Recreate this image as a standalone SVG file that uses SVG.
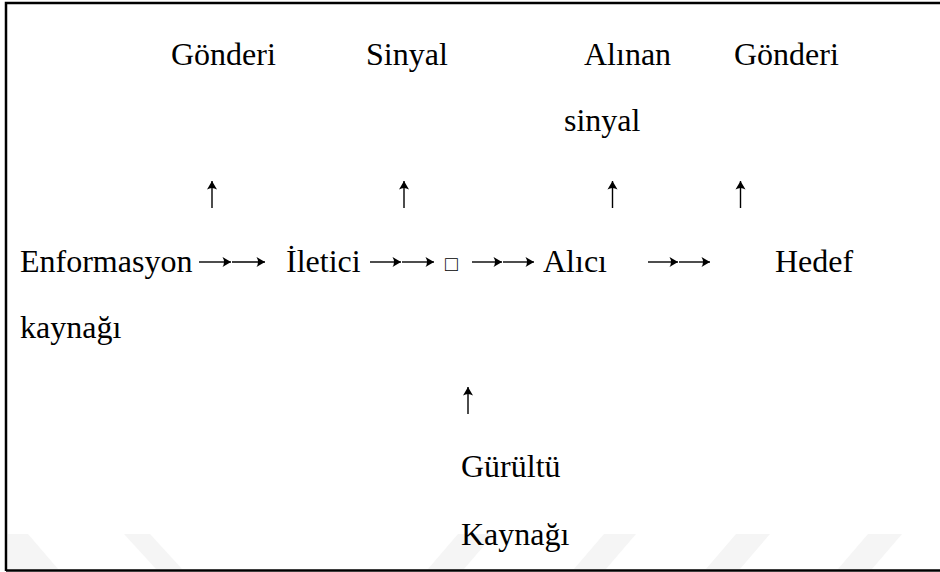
<svg xmlns="http://www.w3.org/2000/svg" width="940" height="572" viewBox="0 0 940 572">
  <style>
    text { font-family: "Liberation Serif", "Times New Roman", serif; font-size: 32px; fill: #000; }
    .frame { fill: none; stroke: #000; stroke-width: 2.5; }
    .mark { fill: #f5f5f5; }
    .link { fill: none; stroke: #000; stroke-width: 1.4; marker-end: url(#head); }
  </style>
  <defs>
    <marker id="head" viewBox="-9 -6 10 12" refX="0" refY="0" markerUnits="userSpaceOnUse" markerWidth="10" markerHeight="12" orient="auto">
      <path d="M0,0 L-8.5,-5 Q-5.5,0 -8.5,5 Z" fill="#000"/>
    </marker>
  </defs>

  <rect x="0" y="0" width="940" height="572" fill="#fff"/>

  <!-- faint background stripes along the lower edge -->
  <g id="stripes">
    <polygon class="mark" points="8,534 28,534 58,569 8,569"/>
    <polygon class="mark" points="124,534 150,534 182,569 156,569"/>
    <polygon class="mark" points="458,534 494,534 464,569 428,569"/>
    <polygon class="mark" points="604,534 636,534 606,569 574,569"/>
    <polygon class="mark" points="736,534 770,534 740,569 706,569"/>
    <polygon class="mark" points="868,534 902,534 872,569 838,569"/>
  </g>

  <!-- frame: left, top and bottom rules -->
  <path class="frame" d="M6,571 V3 H940 M6,570.5 H940"/>

  <!-- upper labels -->
  <g id="gonderi-1"><text x="171" y="65">Gönderi</text></g>
  <g id="sinyal"><text x="366" y="65">Sinyal</text></g>
  <g id="alinan-sinyal"><text x="584" y="65">Alınan</text><text x="564" y="131">sinyal</text></g>
  <g id="gonderi-2"><text x="734" y="65">Gönderi</text></g>

  <!-- main chain -->
  <g id="kaynak"><text x="20" y="272">Enformasyon</text><text x="20" y="338">kaynağı</text></g>
  <g id="iletici"><text x="286" y="272">İletici</text></g>
  <g id="kanal"><text x="445" y="271" style="font-size:21px">□</text></g>
  <g id="alici"><text x="543" y="272">Alıcı</text></g>
  <g id="hedef"><text x="775" y="272">Hedef</text></g>

  <!-- noise source -->
  <g id="gurultu"><text x="461" y="477">Gürültü</text><text x="461" y="545">Kaynağı</text></g>

  <!-- connectors -->
  <g id="connectors">
    <!-- upward pointers to the labels -->
    <path class="link" d="M212,208 V181"/>
    <path class="link" d="M404,208 V181"/>
    <path class="link" d="M612.5,208 V181"/>
    <path class="link" d="M740.5,208 V181"/>
    <!-- noise into the channel -->
    <path class="link" d="M468,414 V387"/>
    <!-- double arrows along the chain -->
    <path class="link" d="M199,262 H231"/>
    <path class="link" d="M232,262 H265"/>
    <path class="link" d="M370,262 H401"/>
    <path class="link" d="M402,262 H434"/>
    <path class="link" d="M472,262 H502"/>
    <path class="link" d="M503,262 H534"/>
    <path class="link" d="M648,262 H678"/>
    <path class="link" d="M679,262 H710"/>
  </g>
</svg>
